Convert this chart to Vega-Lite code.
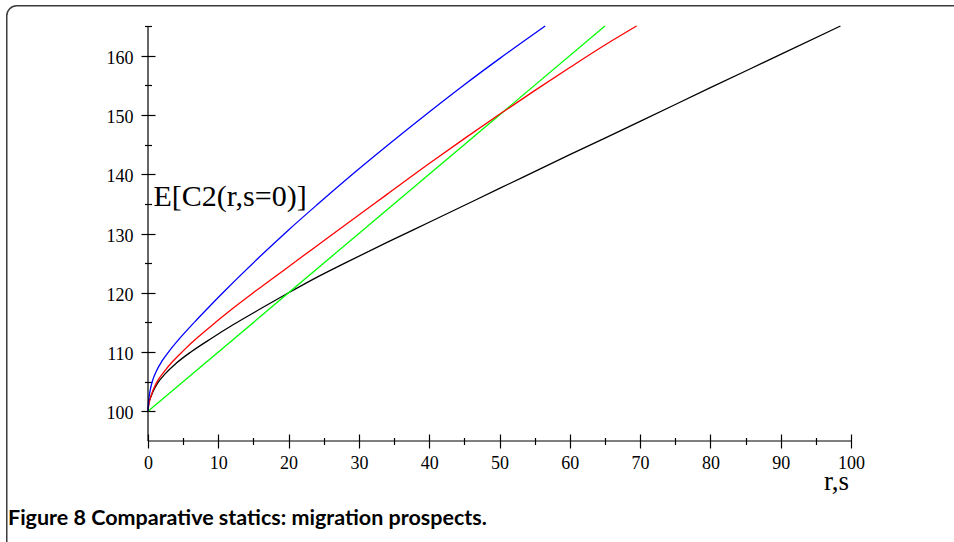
{
  "$schema": "https://vega.github.io/schema/vega-lite/v6.json",
  "width": 703,
  "height": 415,
  "autosize": {"type": "none"},
  "padding": {"left": 148, "top": 26, "right": 103, "bottom": 101},
  "background": "white",
  "config": {"view": {"stroke": null}, "font": "Liberation Serif"},
  "title": {
    "text": "Figure 8 Comparative statics: migration prospects.",
    "orient": "bottom",
    "anchor": "start",
    "frame": "group",
    "font": "Lato",
    "fontWeight": "bold",
    "fontSize": 21.5,
    "color": "#000000",
    "dx": -140,
    "dy": -29,
    "offset": 0,
    "baseline": "alphabetic"
  },
  "datasets": {
    "curves": [
      {"series": "black", "r": 0, "y": 100},
      {"series": "black", "r": 0.1, "y": 101.2},
      {"series": "black", "r": 0.3, "y": 102.1},
      {"series": "black", "r": 0.7, "y": 103.3},
      {"series": "black", "r": 1.4, "y": 104.8},
      {"series": "black", "r": 2.5, "y": 106.4},
      {"series": "black", "r": 4, "y": 108.1},
      {"series": "black", "r": 6.2, "y": 110.1},
      {"series": "black", "r": 9, "y": 112.3},
      {"series": "black", "r": 12.1, "y": 114.6},
      {"series": "black", "r": 16, "y": 117.3},
      {"series": "black", "r": 20, "y": 120},
      {"series": "black", "r": 24, "y": 122.6},
      {"series": "black", "r": 28, "y": 125},
      {"series": "black", "r": 34, "y": 128.5},
      {"series": "black", "r": 40, "y": 131.9},
      {"series": "black", "r": 50, "y": 137.6},
      {"series": "black", "r": 60, "y": 143.3},
      {"series": "black", "r": 70, "y": 148.9},
      {"series": "black", "r": 80, "y": 154.6},
      {"series": "black", "r": 90, "y": 160.2},
      {"series": "black", "r": 98.5, "y": 165},
      {"series": "green", "r": 0, "y": 100},
      {"series": "green", "r": 65, "y": 165},
      {"series": "red", "r": 0, "y": 100},
      {"series": "red", "r": 0.1, "y": 101.1},
      {"series": "red", "r": 0.3, "y": 102.1},
      {"series": "red", "r": 0.7, "y": 103.5},
      {"series": "red", "r": 1.2, "y": 104.8},
      {"series": "red", "r": 2.5, "y": 107.0},
      {"series": "red", "r": 3.5, "y": 108.4},
      {"series": "red", "r": 5, "y": 110.2},
      {"series": "red", "r": 7, "y": 112.4},
      {"series": "red", "r": 9.7, "y": 115.1},
      {"series": "red", "r": 12, "y": 117.3},
      {"series": "red", "r": 15.2, "y": 120.2},
      {"series": "red", "r": 20, "y": 124.4},
      {"series": "red", "r": 24, "y": 127.9},
      {"series": "red", "r": 28, "y": 131.4},
      {"series": "red", "r": 34, "y": 136.6},
      {"series": "red", "r": 40, "y": 141.8},
      {"series": "red", "r": 45, "y": 146.0},
      {"series": "red", "r": 50, "y": 150.1},
      {"series": "red", "r": 55, "y": 154.1},
      {"series": "red", "r": 60, "y": 158.0},
      {"series": "red", "r": 65, "y": 161.8},
      {"series": "red", "r": 69.5, "y": 165},
      {"series": "blue", "r": 0, "y": 100},
      {"series": "blue", "r": 0.05, "y": 101.3},
      {"series": "blue", "r": 0.15, "y": 102.4},
      {"series": "blue", "r": 0.35, "y": 103.8},
      {"series": "blue", "r": 0.6, "y": 105},
      {"series": "blue", "r": 1.2, "y": 106.8},
      {"series": "blue", "r": 2, "y": 108.5},
      {"series": "blue", "r": 3.1, "y": 110.3},
      {"series": "blue", "r": 4.5, "y": 112.3},
      {"series": "blue", "r": 6.65, "y": 115.1},
      {"series": "blue", "r": 8.5, "y": 117.4},
      {"series": "blue", "r": 10.9, "y": 120.3},
      {"series": "blue", "r": 12.6, "y": 122.3},
      {"series": "blue", "r": 16, "y": 126.2},
      {"series": "blue", "r": 20, "y": 130.6},
      {"series": "blue", "r": 24, "y": 134.8},
      {"series": "blue", "r": 28, "y": 138.9},
      {"series": "blue", "r": 34, "y": 144.8},
      {"series": "blue", "r": 40, "y": 150.5},
      {"series": "blue", "r": 45, "y": 155.1},
      {"series": "blue", "r": 50, "y": 159.5},
      {"series": "blue", "r": 56.5, "y": 165}
    ]
  },
  "layer": [
    {
      "data": {"values": [{}]},
      "mark": {"type": "rect", "fill": null, "stroke": "#3c3c3c", "strokeWidth": 1.5, "cornerRadius": 10, "clip": false},
      "encoding": {
        "x": {"datum": -20.09, "type": "quantitative", "scale": {"domain": [0, 100], "nice": false, "zero": false}, "axis": null},
        "x2": {"datum": 116},
        "y": {"datum": 168.4, "type": "quantitative", "scale": {"domain": [95, 165], "nice": false, "zero": false}, "axis": null},
        "y2": {"datum": 76}
      }
    },
    {
      "data": {"name": "curves"},
      "mark": {"type": "line", "interpolate": "monotone", "strokeWidth": 1.3},
      "encoding": {
        "x": {
          "field": "r", "type": "quantitative",
          "scale": {"domain": [0, 100], "nice": false, "zero": false},
          "axis": {
            "values": [0, 10, 20, 30, 40, 50, 60, 70, 80, 90, 100],
            "format": "d", "orient": "bottom",
            "tickSize": 14, "offset": -7, "domain": false, "grid": false,
            "tickColor": "#000000", "tickWidth": 1.2,
            "labelFont": "Liberation Serif", "labelFontSize": 18, "labelColor": "#000000",
            "labelPadding": 6, "labelFlush": false, "labelOverlap": false,
            "title": "r,s", "titleFont": "Liberation Serif", "titleFontSize": 27,
            "titleFontWeight": "normal", "titleColor": "#000000",
            "titleX": 688, "titleY": 55, "titleAlign": "center", "titleBaseline": "alphabetic"
          }
        },
        "y": {
          "field": "y", "type": "quantitative",
          "scale": {"domain": [95, 165], "nice": false, "zero": false},
          "axis": {
            "values": [100, 110, 120, 130, 140, 150, 160],
            "format": "d", "orient": "left",
            "tickSize": 14, "offset": -7, "domain": false, "grid": false,
            "tickColor": "#000000", "tickWidth": 1.2,
            "labelFont": "Liberation Serif", "labelFontSize": 18, "labelColor": "#000000",
            "labelPadding": 8, "labelOffset": 2.5, "labelFlush": false, "labelOverlap": false,
            "title": "E[C2(r,s=0)]", "titleFont": "Liberation Serif", "titleFontSize": 30,
            "titleFontWeight": "normal", "titleColor": "#000000", "titleAngle": 0,
            "titleX": -2, "titleY": 179, "titleAlign": "left", "titleBaseline": "alphabetic"
          }
        },
        "color": {
          "field": "series", "type": "nominal",
          "scale": {"domain": ["black", "blue", "green", "red"], "range": ["#000000", "#0000ff", "#00ff00", "#ff0000"]},
          "legend": null
        }
      }
    },
    {
      "data": {"values": [{}]},
      "mark": {"type": "rule", "color": "#000000", "strokeWidth": 1.2},
      "encoding": {
        "x": {
          "datum": 0, "type": "quantitative",
          "scale": {"domain": [0, 100], "nice": false, "zero": false},
          "axis": {
            "values": [5, 15, 25, 35, 45, 55, 65, 75, 85, 95],
            "orient": "bottom", "tickSize": 7, "offset": -3.5, "domain": false, "grid": false,
            "labels": false, "title": null, "tickColor": "#000000", "tickWidth": 1.2
          }
        },
        "y": {
          "datum": 95, "type": "quantitative",
          "scale": {"domain": [95, 165], "nice": false, "zero": false},
          "axis": {
            "values": [105, 115, 125, 135, 145, 155, 165],
            "orient": "left", "tickSize": 7, "offset": -3.5, "domain": false, "grid": false,
            "labels": false, "title": null, "tickColor": "#000000", "tickWidth": 1.2
          }
        },
        "y2": {"datum": 165}
      }
    },
    {
      "data": {"values": [{}]},
      "mark": {"type": "rule", "color": "#000000", "strokeWidth": 1.2},
      "encoding": {
        "x": {"datum": 0, "type": "quantitative", "scale": {"domain": [0, 100], "nice": false, "zero": false}, "axis": null},
        "x2": {"datum": 100},
        "y": {"datum": 95, "type": "quantitative", "scale": {"domain": [95, 165], "nice": false, "zero": false}, "axis": null}
      }
    }
  ],
  "resolve": {"axis": {"x": "independent", "y": "independent"}}
}
